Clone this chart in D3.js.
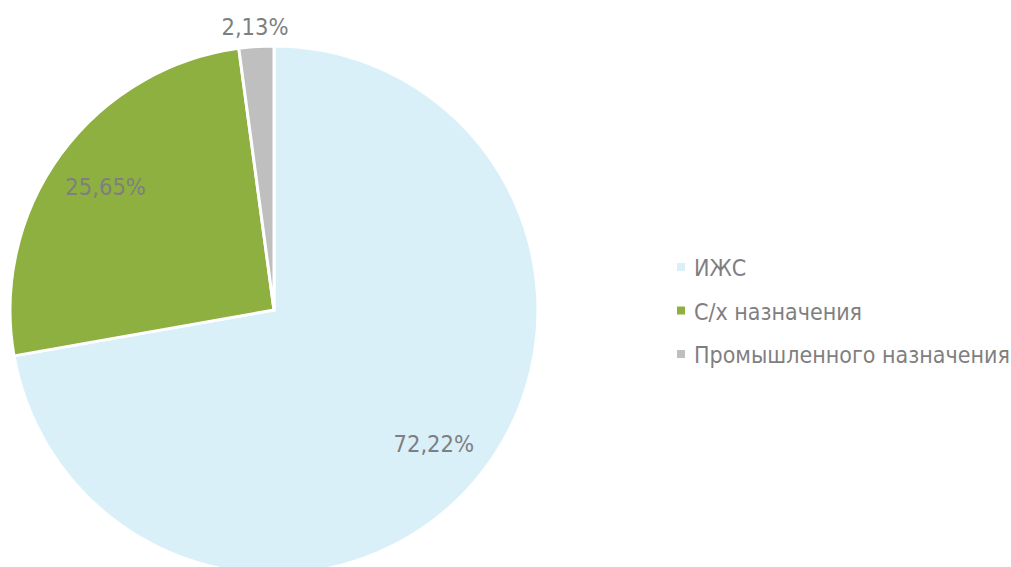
<!DOCTYPE html>
<html><head><meta charset="utf-8">
<script src="https://cdn.jsdelivr.net/npm/d3@7"></script>
<style>
html,body{margin:0;padding:0;background:#fff;}
svg{display:block;}
text{font-family:Tahoma,"DejaVu Sans Condensed","DejaVu Sans",sans-serif;fill:#7f7f7f;}
</style></head>
<body>
<svg id="chart" width="1011" height="567"></svg>
<script>
const categories = ["ИЖС", "С/х назначения", "Промышленного назначения"];
const values = [72.22, 25.65, 2.13];
const labels = ["72,22%", "25,65%", "2,13%"];
const colors = ["#daf0f9", "#8db040", "#bfbfbf"];

const svg = d3.select("#chart");
const cx = 274, cy = 310, r = 264;
const data = categories.map((c, i) => ({cat: c, value: values[i], label: labels[i], color: colors[i]}));

const pie = d3.pie().sort(null).value(d => d.value);
const arcs = pie(data);
const arc = d3.arc().innerRadius(0).outerRadius(r);
const g = svg.append("g").attr("transform", `translate(${cx},${cy})`);

g.selectAll("path").data(arcs).join("path")
  .attr("d", arc)
  .attr("fill", d => d.data.color)
  .attr("stroke", "#fff")
  .attr("stroke-width", 3)
  .attr("stroke-linejoin", "miter");

g.selectAll("text.lbl").data(arcs).join("text")
  .attr("class", "lbl")
  .attr("transform", d => {
    const a = (d.startAngle + d.endAngle) / 2;
    const frac = (d.endAngle - d.startAngle) / (2 * Math.PI);
    const lr = frac < 0.05 ? r + 20 : 0.79 * r;
    return `translate(${lr * Math.sin(a)},${-lr * Math.cos(a)})`;
  })
  .attr("text-anchor", "middle")
  .attr("dominant-baseline", "central")
  .style("font-size", "23.5px")
  .text(d => d.data.label);

const legend = svg.append("g").attr("transform", "translate(677,267)");
const items = legend.selectAll("g").data(data).join("g")
  .attr("transform", (d, i) => `translate(0,${i * 43.5})`);
items.append("rect").attr("x", 0).attr("y", -4).attr("width", 8).attr("height", 8)
  .attr("fill", d => d.color);
items.append("text").attr("x", 17).attr("y", 1)
  .attr("dominant-baseline", "central")
  .style("font-size", "23px")
  .text(d => d.cat);
</script>
</body></html>
